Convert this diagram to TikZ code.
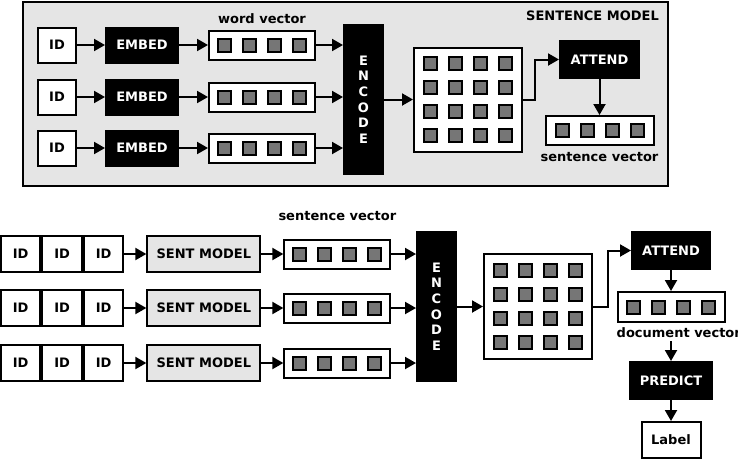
\documentclass[tikz,border=0pt]{standalone}
\usepackage{fontspec}
\setmainfont{DejaVu Sans}
\definecolor{modelgray}{RGB}{229,229,229}
\definecolor{cellgray}{RGB}{118,118,118}
\usetikzlibrary{arrows.meta,positioning,calc}

\begin{document}
\begin{tikzpicture}[
  x=1pt, y=-1pt,
  font=\bfseries\fontsize{13}{15.6}\selectfont,
  box/.style={rectangle, draw, line width=2pt, inner sep=0pt, align=center},
  idbox/.style={box, fill=white, minimum width=38pt, minimum height=35pt},
  opbox/.style={box, fill=black, text=white, minimum width=72pt, minimum height=35pt},
  vecbox/.style={box, fill=white, minimum width=106pt, minimum height=29pt},
  encbox/.style={box, fill=black, text=white, minimum width=39pt, minimum height=149pt},
  matbox/.style={box, fill=white, minimum width=108pt, minimum height=104pt},
  cell/.style={box, fill=cellgray, minimum size=13pt},
  sentbox/.style={box, fill=modelgray, minimum width=113pt, minimum height=36pt},
  framebox/.style={box, fill=modelgray, minimum width=645pt, minimum height=184pt},
  arrow/.style={-{Triangle[length=11pt,width=12pt]}, line width=2pt},
  vlabel/.style={inner sep=0pt},
]
\useasboundingbox (0,0) rectangle (738,461);

% Sentence model
\node[framebox] (sentmodel) at (345.5,94) {};
\node[vlabel] (smtitle) at (592.5,16) {SENTENCE MODEL};

\node[idbox] (id1) at (57,45) {ID};
\node[idbox] (id2) at (57,97) {ID};
\node[idbox] (id3) at (57,148) {ID};
\foreach \i in {1,2,3} {
  \node[opbox, right=28pt of id\i] (embed\i) {EMBED};
  \node[vecbox, right=29pt of embed\i] (wv\i) {};
  \foreach \k in {1,...,4}
    \node[cell] (wv\i-\k) at ($(wv\i)+(25*\k-62.5,0)$) {};
}
\node[vlabel, above=6pt of wv1] (wvlbl) {word vector};

\node[encbox] (encode) at (363.5,99.5) {E\\N\\C\\O\\D\\E};
\node[matbox, right=29pt of encode] (mat) {};
\foreach \r in {1,...,4}
  \foreach \k in {1,...,4}
    \node[cell] (mat-\r-\k) at ($(mat)+(25*\k-62.5,24*\r-60)$) {};

\node[opbox, minimum width=79pt, minimum height=37pt] (attend) at (599.5,59.5) {ATTEND};
\node[vecbox, minimum width=108pt, below=36pt of attend] (sv) {};
\foreach \k in {1,...,4}
  \node[cell] (sv-\k) at ($(sv)+(25*\k-62.5,0)$) {};
\node[vlabel, below=6.5pt of sv] (svlbl) {sentence vector};

% Arrows (sentence model)
\foreach \i in {1,2,3} {
  \draw[arrow] (id\i) -- (embed\i);
  \draw[arrow] (embed\i) -- (wv\i);
  \draw[arrow] (wv\i) -- (wv\i -| encode.west);
}
\draw[arrow] (encode) -- (mat);
\draw[arrow] (mat.east) -- ++(12,0) |- (attend);
\draw[arrow] (attend) -- (sv);

% Document model
\node[idbox, minimum width=39.5pt, minimum height=36pt] (ida1) at (20.6,254) {ID};
\node[idbox, minimum width=39.5pt, minimum height=36pt] (ida2) at (20.6,308) {ID};
\node[idbox, minimum width=39.5pt, minimum height=36pt] (ida3) at (20.6,363) {ID};
\foreach \i in {1,2,3} {
  \node[idbox, minimum width=39.5pt, minimum height=36pt, right=0pt of ida\i] (idb\i) {ID};
  \node[idbox, minimum width=39.5pt, minimum height=36pt, right=0pt of idb\i] (idc\i) {ID};
  \node[sentbox, right=22pt of idc\i] (sm\i) {SENT MODEL};
  \node[vecbox, right=22pt of sm\i] (sb\i) {};
  \foreach \k in {1,...,4}
    \node[cell] (sb\i-\k) at ($(sb\i)+(25*\k-62.5,0)$) {};
}
\node[vlabel, above=17.5pt of sb1] (sblbl) {sentence vector};

\node[encbox] (encode2) at (436.5,306.5) {E\\N\\C\\O\\D\\E};
\node[matbox, minimum height=105pt, right=26pt of encode2] (mat2) {};
\foreach \r in {1,...,4}
  \foreach \k in {1,...,4}
    \node[cell] (mat2-\r-\k) at ($(mat2)+(25*\k-62.5,24*\r-60)$) {};

\node[opbox, minimum width=78pt, minimum height=37pt] (attend2) at (671,250.5) {ATTEND};
\node[vecbox, minimum width=107pt, minimum height=30pt, below=21pt of attend2] (docvec) {};
\foreach \k in {1,...,4}
  \node[cell] (docvec-\k) at ($(docvec)+(25*\k-62.5,0)$) {};
\node[vlabel, anchor=north west] (doclbl) at ($(docvec.south west)+(0,4)$) {document vector};
\coordinate (docout) at ($(docvec.south |- doclbl.south)+(0,4)$);

\node[opbox, minimum width=82pt, minimum height=37pt, below=38pt of docvec] (predict) {PREDICT};
\node[idbox, minimum width=59pt, minimum height=36pt, below=21pt of predict] (labelbox) {Label};

% Arrows (document model)
\foreach \i in {1,2,3} {
  \draw[arrow] (idc\i) -- (sm\i);
  \draw[arrow] (sm\i) -- (sb\i);
  \draw[arrow] (sb\i) -- (sb\i -| encode2.west);
}
\draw[arrow] (encode2) -- (encode2 -| mat2.west);
\draw[arrow] (mat2.east |- encode2) -- ++(15,0) |- (attend2);
\draw[arrow] (attend2) -- (docvec);
\draw[arrow] (docout) -- (predict);
\draw[arrow] (predict) -- (labelbox);

\end{tikzpicture}
\end{document}
